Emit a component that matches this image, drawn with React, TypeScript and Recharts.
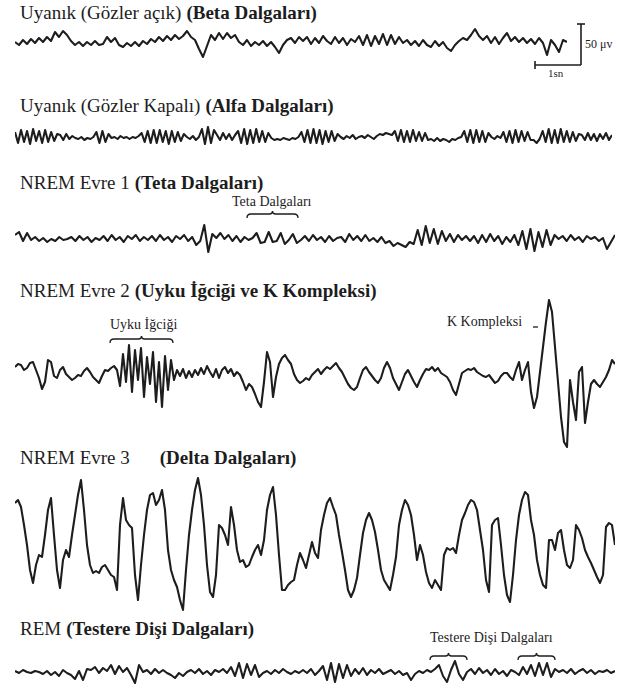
import { LineChart, Line, XAxis, YAxis } from "recharts"

const betaWaves = [
  0, -3, 2, -2, 3, -1, 4, 0, 5, 1,
  10, 5, 11, 7,
  1, -3, 0, -4, 0, -3, 1, -3,
  -2, 5, 0, 4,
  -3, -5, -1, -4, 0, -4, 1, -2, 3, 0,
  5, 1, 6, 2, 7, 3, 6,
  11, 5,
  2, -7, -15, -4,
  7, 2, 9, 3, 9, 4, 7,
  0, -3, 2, -4, 0, -3, 1, -4, 0, -5,
  -11, -3,
  2, 4, -1, 5,
  1, 5, -2, 4, -1, 6, 1, -2, 5, -1, 4, -3, 3, 0,
  6, -3, 7, -4, 6, -2, 8, -3, 7, -2, 5, -1,
  2, -3, 1, -4, 2, -3, -5, 1, -4, 0, -6,
  -9, -3,
  1, 4, 2, 7,
  13, 6,
  2, 6, -1, 5, -2, 4, 9, 1, 5,
  0, 4, -1, 3, -2, 4, -1,
  -13, 2, -3, -10, 2, 0,
]

const alphaWaves = [
  5, -6, 7, -5, 6, -7, 8, -4, 6, -6, 7, -5, 5, -4, 3,
  2, -3, 3, -2, 1,
  -1, -2, 0, -3, -1, -2, 0,
  5, -6, 6, -5, 3,
  -1, 0, -2, 1, -1, 0, -2, 0, -1, 1,
  4, -5, 6, -6, 7, -6, 7, -5, 6, -7, 6, -5, 5, -4, 3,
  0, -2, 1, -3, 0,
  8, -7, 10, -6, 7,
  2, -3, 4, -2, 3, -3, 2,
  6, -6, 8, -7, 7, -6, 8, -5, 6, -5, 4,
  -1, -3, -2, -3, -1, -2, -3, -1, -2, 0,
  5, -5, 7, -6, 8, -6, 7, -7, 6, -5, 6, -4, 3,
  0, -2, 1, -1, 2, -2, 0, 1, -1, 2, 0, -2, 1, 3, 2, 4, 3, 2,
  6, -4, 7, -5, 6, -5, 7, -4, 5, -4, 4, -3,
  -2, -4, -1, -4, -2, -3, -5, -2, -3, -1, 0,
  6, -5, 7, -6, 7, -5, 6, -5, 4,
  0, -2, 1, -1,
  5, -5, 6, -6, 7, -5, 6, -4, 5, -3,
  -3, -6, -2,
  6, -5, 8, -6, 7, -6, 8, -5, 6, -5, 5, -4, 3,
  2, -3, 4, -3, 3, -4, 3, -2, 4, -3, 2,
]

const thetaWaves = [
  4, 7, -2, 6,
  -1, 2, -2, 1, -3, 0, -2, 2, -1, 0,
  2, -2, 3, -1, 2, -3, 1, -1,
  3, -2, 4, -1, 2, -3, 3, 0, 4, -2, 2, -1, 3, -2, 4, -1, 2, -3, 3, 0, 4, -2, 2,
  -6, -2,
  14, -13,
  5, 1, 6, 0, 4,
  -2, 3, -3, 2, -1,
  1, 6, -4, -3, 7, -3, -2, 6, -5, -1, 5, -4,
  -1, 3, -2, 4, -1, 2, -3, 3, -2, 1,
  2, -3, 5, -1, 3, -2, 4, -2, 1, -3, 2, -4, -2, -7, -4,
  -6, -8, -3, -5,
  9, -6, 13, -4, 10, -5, 8,
  -2, 5, -3, 4, -1, 3, -2,
  3, -4, 4, -3, 5, -2, 3, -5, 2, -3, 4,
  -6, 8, -10, 10, -12, 7, -8, 9, -6, 4,
  0, 3, -2, 4, -1, 2, -3, 3, 0, 2, -2, 1,
  -10, -3, 4,
]

const stage2Waves = [
  5, 8, 7, 2, 4, 9, 10, 2, -6, -17, -10, 12, 10, -4, -6, 2, 5, -2, -5, -8,
  -6, -3, -4, 1, 4, 0, -5, -8, -11, -4, 2, 1, 4, 6,
  // sleep spindle
  2, -14, 18, -10, 27, -20, 22, -8, 24, -25, 15, -12, 20, -30, 10, -35, 16, -18, 12, -8,
  2, -4, 3, -6, 1, -5, 2, -3,
  4, -2, 6, 0, -5, 3, -6, 2, 5, -1, 3, -4, 0, -3,
  -10, -18, -12, -15, -22, -30, -35, -10, 20, 10, -25, -5, 8, 14, 17, 12, 8, -2, -8, -11,
  -9, -6, -8, -3, 0, 3, -2, 2, 5, 3, 6, 9, 4, 0, -6, -12, -16, -18, -15, -6,
  2, 5, 0, -4, -8, -11, -6, 4, 10, 4, -6, -12, -18, -10, -2, 2, -4, -10, -15, -8,
  -2, 3, 2, 5, 1, 4, -1, -3, -5, -10, -18, -23, -12, -1, 1, 3, 2, 4, 0, -2,
  -4, -5, -3, -7, -11, -9, -4, -1, -1, -5, -8, 2, 10, -8, 2, 10, -20, -36, -25, 0,
  // K complex
  25, 50, 72, 60, 25, -10, -45, -70, -75, -8, -30, -48, 0, 5, -51, -30, -12, -8, -12, -15,
  -10, -5, 2, 12, 8,
]

const deltaWaves = [
  42, 45, 38, 20, 0, -25, -38, -20, -10, -12, 10, 35, 47, 10, -25, -43, -15, -5, -12, 10,
  30, 50, 65, 35, 0, -20, -28, -26, -28, -22, -20, -25, -30, -32, -45, 20, 47, 25, 20, 17,
  -30, -55, -20, 10, 35, 50, 52, 40, 45, 55, 35, -5, -25, -35, -42, -55, -65, -25, 10, 35,
  55, 67, 50, 20, -20, -47, -52, -30, 20, 17, 10, 0, 38, 20, -5, -17, -15, -22, -20, -12,
  -5, 0, -10, 5, 35, 50, 58, 30, -10, -45, -45, -40, -37, -35, -20, -8, -15, -23, -10, 3,
  -8, -13, 15, 30, 42, 47, 38, 30, 10, -7, -25, -45, -52, -45, -33, -10, 12, 25, 32, 25,
  13, -5, -25, -35, -40, -45, -30, -12, 20, 35, 45, 40, 30, 10, -15, 0, -10, -27, -38, -43,
  -35, -40, -45, -10, -3, -5, -3, -8, 10, 25, 32, 40, 45, 43, 35, 15, -5, -35, -47, 20,
  25, 27, 0, -30, -50, -57, -30, 5, 30, 45, 53, 50, 25, 10, -15, -30, -40, -43, 5, 5,
  -5, 12, 15, -5, -20, -23, -15, 20, 15, 7, -5, -12, -18, -25, -32, -38, -30, 18, 22, 20,
  0,
]

const remWaves = [
  1, -1, 2, 0, -1, 1, 0,
  -2, 1, -3, 0, -4, 2, -1,
  -3, -7, 1, -8, 3,
  2, 5, -1, 4, 1,
  7, -2, 6, 0, 4,
  -3, -11, 7,
  0, 2, -2, 3, -1, 2, -1,
  -3, -6, -1, -4, 0,
  2, -1, 3, -2, 1, -3, 2, 0, 3, -1,
  5, -4, 9, -6, 8, -3, 7, -5,
  -1, 1, -2, 2, -1, 3, 0, -2, 1, -1,
  2, -1, 3, -3, 1,
  6, -8, 9, -10, 8, -6, 7, -4,
  3, -2, 4, -3, 2, -1, 3, -2,
  0, 2, -2, 1, -3, -1, -8, -2, 1, -1, 2, 0, 3,
  7, -4, -10,
  2, 11, -2, -8, 0,
  3, -2, 4, -1, 2, -3, 3, -2, 1, -4, 2, 0,
  -3, 5, -2, 7, -4, 9, -3, 9, -5, 3,
  0, 2, -1, 3, -2, 1, 3, -1, 2, -2, 1, 0, 2, -1, 1,
]

const serif = '"Liberation Serif", "Times New Roman", serif'
const ink = "#1d1d1d"

function Trace({ values, left, top, width, height, range }: {
  values: number[]; left: number; top: number; width: number; height: number; range: number
}) {
  const data = values.map((v, i) => ({ i, v }))
  return (
    <div style={{ position: "absolute", left, top }}>
      <LineChart width={width} height={height} data={data} margin={{ top: 0, right: 0, bottom: 0, left: 0 }}>
        <XAxis dataKey="i" type="number" domain={[0, values.length - 1]} hide />
        <YAxis type="number" domain={[-range, range]} hide />
        <Line dataKey="v" type="linear" stroke={ink} strokeWidth={2.1} strokeLinejoin="round" dot={false} isAnimationActive={false} />
      </LineChart>
    </div>
  )
}

function Title({ top, left = 20, plain, bold, gap = 5 }: { top: number; left?: number; plain: string; bold: string; gap?: number }) {
  return (
    <div style={{ position: "absolute", top, left, fontFamily: serif, fontSize: 19, color: ink, whiteSpace: "nowrap", lineHeight: 1 }}>
      {plain}
      <span style={{ display: "inline-block", width: gap }} />
      <b>{bold}</b>
    </div>
  )
}

function Note({ top, left, text }: { top: number; left: number; text: string }) {
  return (
    <div style={{ position: "absolute", top, left, fontFamily: serif, fontSize: 14, color: ink, whiteSpace: "nowrap", lineHeight: 1 }}>
      {text}
    </div>
  )
}

function brace(x1: number, x2: number, y: number) {
  const m = (x1 + x2) / 2
  return `M${x1},${y + 4} Q${x1},${y} ${x1 + 4},${y} L${m - 3},${y} Q${m},${y} ${m},${y - 3} Q${m},${y} ${m + 3},${y} L${x2 - 4},${y} Q${x2},${y} ${x2},${y + 4}`
}

export default function App() {
  return (
    <div style={{ position: "absolute", left: 0, top: 0, width: 617, height: 698, background: "#fff", overflow: "hidden" }}>
      <Title top={3} plain="Uyanık (Gözler açık)" bold="(Beta Dalgaları)" />
      <Trace values={betaWaves} left={15} top={26} width={552} height={32} range={16} />

      <Title top={96} plain="Uyanık (Gözler Kapalı)" bold="(Alfa Dalgaları)" />
      <Trace values={alphaWaves} left={15} top={122} width={597} height={30} range={15} />

      <Title top={173} plain="NREM Evre 1" bold="(Teta Dalgaları)" />
      <Note top={195} left={232} text="Teta Dalgaları" />
      <Trace values={thetaWaves} left={15} top={219} width={600} height={40} range={20} />

      <Title top={281} plain="NREM Evre 2" bold="(Uyku İğciği ve K Kompleksi)" />
      <Note top={318} left={110} text="Uyku İğciği" />
      <Note top={315} left={447} text="K Kompleksi" />
      <Trace values={stage2Waves} left={15} top={287} width={600} height={170} range={85} />

      <Title top={448} plain="NREM Evre 3" bold="(Delta Dalgaları)" gap={30} />
      <Trace values={deltaWaves} left={15} top={470} width={600} height={150} range={75} />

      <Title top={619} plain="REM" bold="(Testere Dişi Dalgaları)" />
      <Note top={631} left={430} text="Testere Dişi Dalgaları" />
      <Trace values={remWaves} left={15} top={657} width={600} height={30} range={15} />

      <svg width={617} height={698} style={{ position: "absolute", left: 0, top: 0, pointerEvents: "none" }}>
        <g fill="none" stroke={ink} strokeWidth={1.3}>
          <path d={brace(247, 298, 214)} />
          <path d={brace(110, 173, 339)} />
          <path d={brace(430, 467, 656)} />
          <path d={brace(518, 555, 656)} />
          <line x1={533} y1={327} x2={538} y2={327} />
          {/* scale bar */}
          <line x1={581} y1={24} x2={581} y2={65} strokeWidth={1.6} />
          <line x1={577} y1={24} x2={585} y2={24} strokeWidth={1.6} />
          <line x1={535} y1={65} x2={581} y2={65} strokeWidth={1.6} />
          <line x1={535} y1={61} x2={535} y2={69} strokeWidth={1.6} />
        </g>
        <text x={585} y={48} fontFamily={serif} fontSize={12} fill={ink}>50 μv</text>
        <text x={548} y={77} fontFamily={serif} fontSize={11} fill={ink}>1sn</text>
      </svg>
    </div>
  )
}
